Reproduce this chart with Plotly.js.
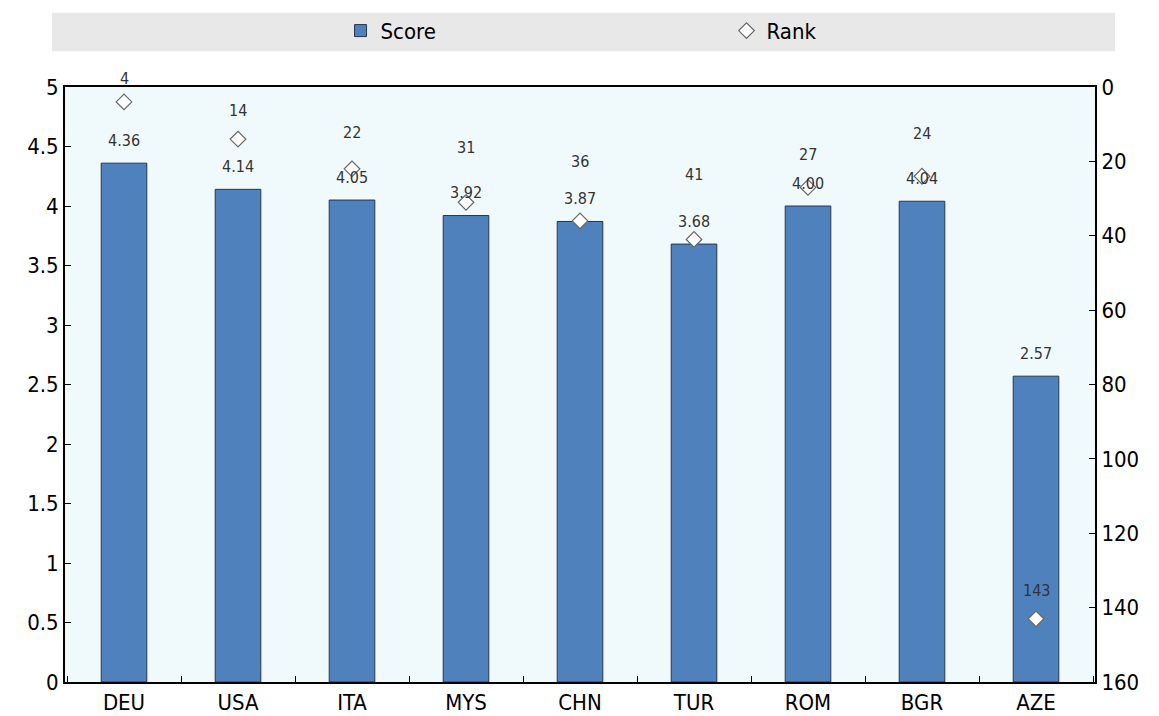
<!DOCTYPE html>
<html><head><meta charset="utf-8">
<script src="https://cdn.plot.ly/plotly-3.0.1.min.js"></script>
<style>body{margin:0;background:#fff}#chart{width:1159px;height:716px}</style>
</head><body><div id="chart"></div>
<script>
const countries = ['DEU','USA','ITA','MYS','CHN','TUR','ROM','BGR','AZE'];
const scores = [4.36, 4.14, 4.05, 3.92, 3.87, 3.68, 4.00, 4.04, 2.57];
const ranks = [4, 14, 22, 31, 36, 41, 27, 24, 143];

// label placement (pixel offsets above each rank marker, to avoid the score labels)
const rankLabelShift = [23, 29, 36, 55, 59, 65, 33, 43, 28];

const TICKFONT = 'DejaVu Sans Condensed, Liberation Sans Narrow, Arial Narrow, Liberation Sans, sans-serif';
const LABELFONT = 'Liberation Sans Narrow, Arial Narrow, DejaVu Sans Condensed, Liberation Sans, sans-serif';

const barTrace = {
  type: 'bar', name: 'Score', x: countries, y: scores,
  marker: {color: '#4F81BD', line: {color: '#26374F', width: 1}},
  width: 0.4, yaxis: 'y', hoverinfo: 'skip'
};
const rankTrace = {
  type: 'scatter', mode: 'markers', name: 'Rank', x: countries, y: ranks,
  yaxis: 'y2',
  marker: {symbol: 'diamond', size: 12, color: '#FFFFFF', line: {color: '#666666', width: 1.2}},
  hoverinfo: 'skip'
};

const annotations = [];
countries.forEach((c, i) => {
  annotations.push({x: c, y: scores[i], xref: 'x', yref: 'y', text: scores[i].toFixed(2),
    showarrow: false, yshift: 23, font: {family: LABELFONT, size: 16, color: '#333333'}});
  annotations.push({x: c, y: ranks[i], xref: 'x', yref: 'y2', text: String(ranks[i]),
    showarrow: false, yshift: rankLabelShift[i], font: {family: LABELFONT, size: 16, color: '#333333'}});
});

const tickFont = {family: TICKFONT, size: 22, color: '#000'};

const layout = {
  width: 1159, height: 716,
  margin: {l: 65, r: 64, t: 87, b: 34},
  paper_bgcolor: '#FFFFFF', plot_bgcolor: '#F0FAFD',
  font: {family: TICKFONT, color: '#000'},
  showlegend: true,
  legend: {orientation: 'h', x: 0.2675, xanchor: 'left', y: 0.957, yref: 'container', yanchor: 'middle',
    bgcolor: 'rgba(0,0,0,0)', font: {family: TICKFONT, size: 22, color: '#000'},
    entrywidth: 341, entrywidthmode: 'pixels', traceorder: 'normal'},
  bargap: 0.6,
  xaxis: {type: 'category', showline: true, linecolor: '#000', linewidth: 2, mirror: true,
    ticks: 'inside', tickson: 'boundaries', ticklen: 6, tickcolor: '#000',
    tickfont: tickFont, showgrid: false},
  yaxis: {range: [0, 5], dtick: 0.5, showline: true, linecolor: '#000', linewidth: 2,
    ticks: 'inside', ticklen: 6, tickcolor: '#000', showgrid: false, zeroline: false,
    tickfont: tickFont},
  yaxis2: {overlaying: 'y', side: 'right', range: [160, 0], dtick: 20, showline: true,
    linecolor: '#000', linewidth: 2, ticks: 'inside', ticklen: 6, tickcolor: '#000',
    showgrid: false, zeroline: false, tickfont: tickFont},
  shapes: [{type: 'rect', xref: 'paper', yref: 'paper', layer: 'below',
    x0: -0.0126, x1: 1.0194, y0: 1.06, y1: 1.125, fillcolor: '#E8E8E8', line: {width: 0}}],
  annotations: annotations
};

Plotly.newPlot('chart', [barTrace, rankTrace], layout, {displayModeBar: false, staticPlot: true});
</script>
</body></html>
